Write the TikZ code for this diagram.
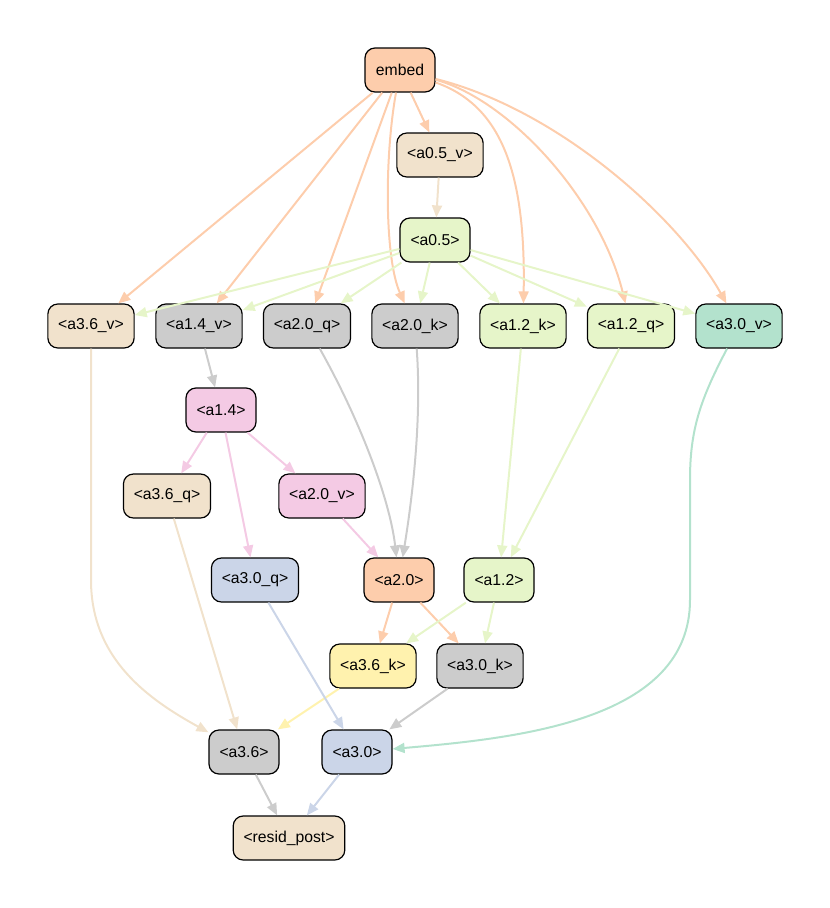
\documentclass[tikz,border=0pt]{standalone}
\usepackage{fontspec}
\setmainfont{Liberation Sans}
\usetikzlibrary{arrows.meta}
\definecolor{pOrange}{HTML}{FDCDAC}
\definecolor{pBeige}{HTML}{F1E2CC}
\definecolor{pLime}{HTML}{E6F5C9}
\definecolor{pGray}{HTML}{CCCCCC}
\definecolor{pTeal}{HTML}{B3E2CD}
\definecolor{pPink}{HTML}{F4CAE4}
\definecolor{pBlue}{HTML}{CBD5E8}
\definecolor{pYellow}{HTML}{FFF2AE}
\tikzset{
  unit/.style={draw=black,line width=0.9pt,rounded corners=7.5pt,
    minimum width=52.5pt,minimum height=33pt,inner xsep=7.75pt,
    font=\fontsize{11.8}{14}\selectfont},
  link/.style={-{Triangle[length=9pt,width=7.5pt]},line width=1.5pt}
}

\begin{document}
\begin{tikzpicture}[x=0.75pt,y=0.75pt]
  \useasboundingbox (0,0) rectangle (830,-908);
  % nodes, placed at the layout positions
  \node[unit,fill=pOrange] (embed) at (400,-70) {embed};
  \node[unit,fill=pBeige] (a05v) at (440,-155) {<a0.5\_v>};
  \node[unit,fill=pLime] (a05) at (435,-240) {<a0.5>};
  \node[unit,fill=pBeige] (a36v) at (91,-326) {<a3.6\_v>};
  \node[unit,fill=pGray] (a14v) at (199,-326) {<a1.4\_v>};
  \node[unit,fill=pGray] (a20q) at (307,-326) {<a2.0\_q>};
  \node[unit,fill=pGray] (a20k) at (415,-326) {<a2.0\_k>};
  \node[unit,fill=pLime] (a12k) at (523,-326) {<a1.2\_k>};
  \node[unit,fill=pLime] (a12q) at (631,-326) {<a1.2\_q>};
  \node[unit,fill=pTeal] (a30v) at (739,-326) {<a3.0\_v>};
  \node[unit,fill=pPink] (a14) at (221,-410) {<a1.4>};
  \node[unit,fill=pBeige] (a36q) at (167,-496) {<a3.6\_q>};
  \node[unit,fill=pPink] (a20v) at (322,-496) {<a2.0\_v>};
  \node[unit,fill=pBlue] (a30q) at (255,-580) {<a3.0\_q>};
  \node[unit,fill=pOrange] (a20) at (399,-580) {<a2.0>};
  \node[unit,fill=pLime] (a12) at (499,-580) {<a1.2>};
  \node[unit,fill=pYellow] (a36k) at (373,-666) {<a3.6\_k>};
  \node[unit,fill=pGray] (a30k) at (480,-666) {<a3.0\_k>};
  \node[unit,fill=pGray] (a36) at (244,-752) {<a3.6>};
  \node[unit,fill=pBlue] (a30) at (357,-752) {<a3.0>};
  \node[unit,fill=pBeige] (resid) at (289,-838) {<resid\_post>};
  % edges out of embed
  \draw[link,pOrange] (embed) -- (a36v);
  \draw[link,pOrange] (embed) -- (a14v);
  \draw[link,pOrange] (embed) -- (a20q);
  \draw[link,pOrange] (embed) .. controls (384,-160) and (385,-260) .. (a20k);
  \draw[link,pOrange] (embed) -- (a05v);
  \draw[link,pOrange] (embed) .. controls (500,-105) and (526,-170) .. (a12k);
  \draw[link,pOrange] (embed) .. controls (510,-100) and (600,-200) .. (a12q);
  \draw[link,pOrange] (embed) .. controls (560,-110) and (680,-220) .. (a30v);
  \draw[link,pBeige] (a05v) -- (a05);
  % edges out of a0.5
  \foreach \t in {a36v,a14v,a20q,a20k,a12k,a12q,a30v}
    \draw[link,pLime] (a05) -- (\t);
  % middle layers
  \draw[link,pGray] (a14v) -- (a14);
  \draw[link,pPink] (a14) -- (a36q);
  \draw[link,pPink] (a14) -- (a20v);
  \draw[link,pPink] (a14) -- (a30q);
  \draw[link,pGray] (a20q) .. controls (360,-420) and (390,-500) .. (a20);
  \draw[link,pGray] (a20k) .. controls (422,-420) and (412,-500) .. (a20);
  \draw[link,pPink] (a20v) -- (a20);
  \draw[link,pLime] (a12k) -- (a12);
  \draw[link,pLime] (a12q) -- (a12);
  \draw[link,pOrange] (a20) -- (a36k);
  \draw[link,pOrange] (a20) -- (a30k);
  \draw[link,pLime] (a12) -- (a36k);
  \draw[link,pLime] (a12) -- (a30k);
  % into the last layers
  \draw[link,pBeige] (a36v.south) -- (91,-580)
    .. controls (91,-660) and (150,-700) .. (a36);
  \draw[link,pBeige] (a36q) -- (a36);
  \draw[link,pYellow] (a36k) -- (a36);
  \draw[link,pBlue] (a30q) -- (a30);
  \draw[link,pGray] (a30k) -- (a30);
  \draw[link,pTeal] (a30v) .. controls (700,-400) and (690,-430) .. (690,-480)
    -- (690,-600) .. controls (690,-720) and (520,-738) .. (a30);
  \draw[link,pGray] (a36) -- (resid);
  \draw[link,pBlue] (a30) -- (resid);
\end{tikzpicture}
\end{document}
